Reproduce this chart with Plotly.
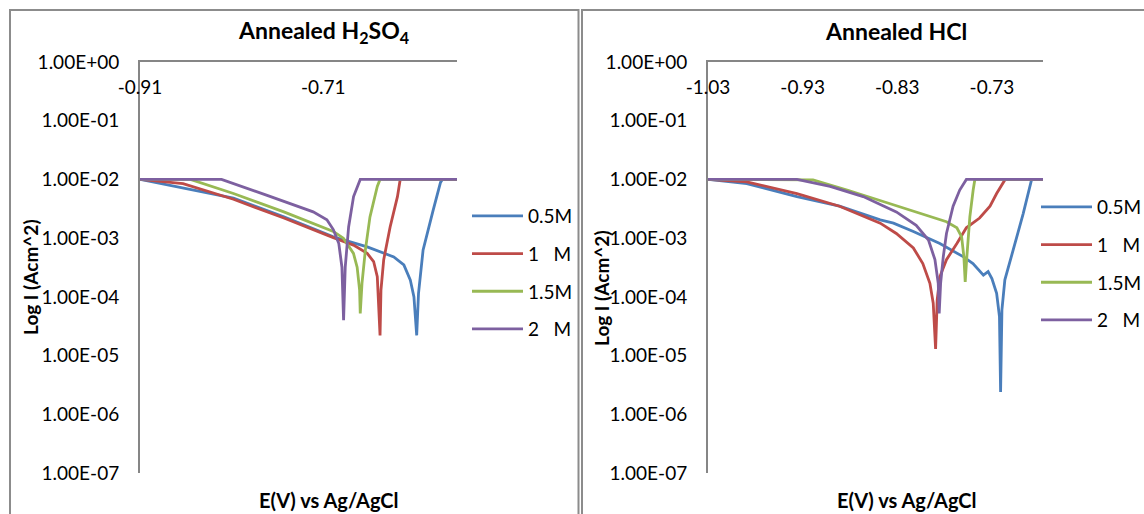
import plotly.graph_objects as go

W, H = 1144, 514

# ---------------- data: Annealed H2SO4 (E in V, I in A/cm^2) ----------------
h2so4_e_05 = [-0.910, -0.808, -0.753, -0.699, -0.662, -0.633, -0.622, -0.615, -0.611, -0.608,
              -0.606, -0.601, -0.590, -0.582, -0.580, -0.564]
h2so4_i_05 = [1.0e-2, 4.8e-3, 2.3e-3, 1.05e-3, 7.1e-4, 4.8e-4, 3.5e-4, 1.95e-4, 1.0e-4, 2.2e-5,
              1.15e-4, 6.3e-4, 3.0e-3, 8.9e-3, 1.0e-2, 1.0e-2]

h2so4_e_1 = [-0.910, -0.863, -0.808, -0.753, -0.699, -0.677, -0.662, -0.655, -0.651, -0.650,
             -0.648, -0.647, -0.644, -0.637, -0.629, -0.626, -0.564]
h2so4_i_1 = [1.0e-2, 8.5e-3, 4.6e-3, 2.2e-3, 1.02e-3, 7.6e-4, 5.5e-4, 4.0e-4, 2.2e-4, 8.9e-5,
             2.2e-5, 1.3e-4, 4.3e-4, 1.55e-3, 5.1e-3, 1.0e-2, 1.0e-2]

h2so4_e_15 = [-0.910, -0.855, -0.808, -0.753, -0.699, -0.688, -0.677, -0.673, -0.6703, -0.6696,
              -0.6677, -0.664, -0.659, -0.651, -0.648, -0.564]
h2so4_i_15 = [1.0e-2, 1.0e-2, 5.75e-3, 2.8e-3, 1.3e-3, 1.0e-3, 5.5e-4, 3.2e-4, 1.3e-4, 5.2e-5,
              1.7e-4, 6.3e-4, 2.3e-3, 7.6e-3, 1.0e-2, 1.0e-2]

h2so4_e_2 = [-0.910, -0.821, -0.772, -0.721, -0.706, -0.699, -0.693, -0.6896, -0.6878, -0.6860,
             -0.6823, -0.6769, -0.6696, -0.564]
h2so4_i_2 = [1.0e-2, 1.0e-2, 5.4e-3, 2.8e-3, 2.05e-3, 1.4e-3, 8.1e-4, 3.2e-4, 4.0e-5, 3.2e-4,
             1.55e-3, 5.1e-3, 1.0e-2, 1.0e-2]

# ---------------- data: Annealed HCl ----------------
hcl_e_05 = [-1.030, -0.989, -0.936, -0.891, -0.848, -0.834, -0.813, -0.785, -0.760, -0.750,
            -0.739, -0.734, -0.730, -0.725, -0.722, -0.7208, -0.7194, -0.7163, -0.7075, -0.697,
            -0.688, -0.676]
hcl_i_05 = [1.0e-2, 8.5e-3, 5.1e-3, 3.5e-3, 2.05e-3, 1.8e-3, 1.3e-3, 8.1e-4, 4.8e-4, 3.7e-4,
            2.35e-4, 2.7e-4, 2.05e-4, 1.15e-4, 4.6e-5, 2.4e-6, 6.0e-5, 1.95e-4, 6.3e-4, 2.6e-3,
            1.0e-2, 1.0e-2]

hcl_e_1 = [-1.030, -0.989, -0.936, -0.891, -0.848, -0.831, -0.813, -0.803, -0.7955, -0.792,
           -0.7895, -0.7878, -0.785, -0.778, -0.767, -0.757, -0.743, -0.732, -0.725, -0.716,
           -0.676]
hcl_i_1 = [1.0e-2, 9.1e-3, 5.75e-3, 3.5e-3, 1.8e-3, 1.2e-3, 6.8e-4, 3.7e-4, 1.7e-4, 7.8e-5,
           1.3e-5, 8.9e-5, 2.2e-4, 4.3e-4, 8.1e-4, 1.5e-3, 2.2e-3, 3.5e-3, 5.75e-3, 1.0e-2,
           1.0e-2]

hcl_e_15 = [-1.030, -0.933, -0.919, -0.883, -0.831, -0.778, -0.767, -0.762, -0.7596, -0.7582,
            -0.7567, -0.7533, -0.7498, -0.748, -0.676]
hcl_i_15 = [1.0e-2, 1.0e-2, 9.8e-3, 6.6e-3, 3.6e-3, 1.9e-3, 1.5e-3, 1.05e-3, 4.8e-4, 1.8e-4,
            4.3e-4, 2.3e-3, 6.6e-3, 1.0e-2, 1.0e-2]

hcl_e_2 = [-1.030, -0.936, -0.901, -0.866, -0.831, -0.810, -0.797, -0.7902, -0.7867, -0.7857,
           -0.7842, -0.7814, -0.778, -0.771, -0.764, -0.757, -0.676]
hcl_i_2 = [1.0e-2, 1.0e-2, 7.6e-3, 5.1e-3, 2.8e-3, 1.65e-3, 9.3e-4, 4.3e-4, 1.7e-4, 5.2e-5,
           1.7e-4, 4.8e-4, 1.2e-3, 3.5e-3, 6.6e-3, 1.0e-2, 1.0e-2]

series_names = ["0.5M", "1\u00a0\u00a0\u00a0M", "1.5M", "2\u00a0\u00a0\u00a0M"]
series_colors = ["#4A7EBB", "#BE4B48", "#98B954", "#7D60A0"]

h2so4_xticks = [-0.91, -0.71]
h2so4_xticktext = ["-0.91", "-0.71"]
hcl_xticks = [-1.03, -0.93, -0.83, -0.73]
hcl_xticktext = ["-1.03", "-0.93", "-0.83", "-0.73"]
yticks = [1e0, 1e-1, 1e-2, 1e-3, 1e-4, 1e-5, 1e-6, 1e-7]
yticktext = ["1.00E+00", "1.00E-01", "1.00E-02", "1.00E-03", "1.00E-04",
             "1.00E-05", "1.00E-06", "1.00E-07"]

FONT = "Lato, 'Open Sans', sans-serif"
TICK = 19

fig = go.Figure()

h2_sets = [(h2so4_e_05, h2so4_i_05), (h2so4_e_1, h2so4_i_1),
           (h2so4_e_15, h2so4_i_15), (h2so4_e_2, h2so4_i_2)]
hcl_sets = [(hcl_e_05, hcl_i_05), (hcl_e_1, hcl_i_1),
            (hcl_e_15, hcl_i_15), (hcl_e_2, hcl_i_2)]

for k, (e, i) in enumerate(h2_sets):
    fig.add_trace(go.Scatter(x=e, y=i, mode="lines", name=series_names[k],
                             line=dict(color=series_colors[k], width=2.8),
                             xaxis="x", yaxis="y", legend="legend",
                             legendgroup="a%d" % k))
for k, (e, i) in enumerate(hcl_sets):
    fig.add_trace(go.Scatter(x=e, y=i, mode="lines", name=series_names[k],
                             line=dict(color=series_colors[k], width=2.8),
                             xaxis="x2", yaxis="y2", legend="legend2",
                             legendgroup="b%d" % k))

def px(v):
    return v / W

def py(v):
    return 1 - v / H

ytop, ybot = 62, 473
axis_common = dict(showgrid=False, zeroline=False, showline=True, linecolor="#868686",
                   linewidth=2, ticks="", ticklabeloverflow="allow",
                   tickfont=dict(family=FONT, size=TICK, color="black"))

fig.update_layout(
    width=W, height=H, margin=dict(l=0, r=0, t=0, b=0, autoexpand=False),
    paper_bgcolor="white", plot_bgcolor="white",
    font=dict(family=FONT, color="black"),
    xaxis=dict(domain=[px(140), px(457)], range=[-0.91, -0.564], anchor="y", side="top",
               tickvals=h2so4_xticks, ticktext=h2so4_xticktext,
               ticklabelposition="inside", ticklabelstandoff=20, **axis_common),
    yaxis=dict(domain=[py(ybot), py(ytop)], type="log", range=[-7, 0], anchor="x",
               tickvals=yticks, ticktext=yticktext, ticklabelstandoff=15, **axis_common),
    xaxis2=dict(domain=[px(708), px(1043)], range=[-1.03, -0.676], anchor="y2", side="top",
                tickvals=hcl_xticks, ticktext=hcl_xticktext,
                ticklabelposition="inside", ticklabelstandoff=20, **axis_common),
    yaxis2=dict(domain=[py(ybot), py(ytop)], type="log", range=[-7, 0], anchor="x2",
                tickvals=yticks, ticktext=yticktext, ticklabelstandoff=15, **axis_common),
    legend=dict(x=px(467), y=py(197), xanchor="left", yanchor="top",
                font=dict(family=FONT, size=TICK, color="black"), tracegroupgap=10,
                bgcolor="rgba(0,0,0,0)", itemwidth=51),
    legend2=dict(x=px(1036), y=py(188), xanchor="left", yanchor="top",
                 font=dict(family=FONT, size=TICK, color="black"), tracegroupgap=10,
                 bgcolor="rgba(0,0,0,0)", itemwidth=51),
    showlegend=True,
)

# panel borders
fig.add_shape(type="rect", xref="paper", yref="paper", x0=px(10), x1=px(578.5),
              y0=-0.2, y1=py(10), line=dict(color="#8C8C8C", width=2), layer="below")
fig.add_shape(type="rect", xref="paper", yref="paper", x0=px(582), x1=1.2,
              y0=-0.2, y1=py(10), line=dict(color="#8C8C8C", width=2), layer="below")

ann = []
ann.append(dict(text="<b>Annealed H<sub>2</sub>SO<sub>4</sub></b>", x=px(323), y=py(31), size=23))
ann.append(dict(text="<b>Annealed HCl</b>", x=px(896), y=py(31), size=23))
ann.append(dict(text="<b>E(V) vs Ag/AgCl</b>", x=px(329), y=py(500), size=20))
ann.append(dict(text="<b>E(V) vs Ag/AgCl</b>", x=px(907), y=py(500), size=20))
for a in ann:
    fig.add_annotation(text=a["text"], x=a["x"], y=a["y"], xref="paper", yref="paper",
                       showarrow=False, xanchor="center", yanchor="middle",
                       font=dict(family=FONT, size=a["size"], color="black"))
for xc, yc in [(30, 277), (601, 288)]:
    fig.add_annotation(text="<b>Log I (Acm^2)</b>", x=px(xc), y=py(yc), xref="paper",
                       yref="paper", showarrow=False, textangle=-90,
                       xanchor="center", yanchor="middle",
                       font=dict(family=FONT, size=19, color="black"))

fig.write_html("out.html")
